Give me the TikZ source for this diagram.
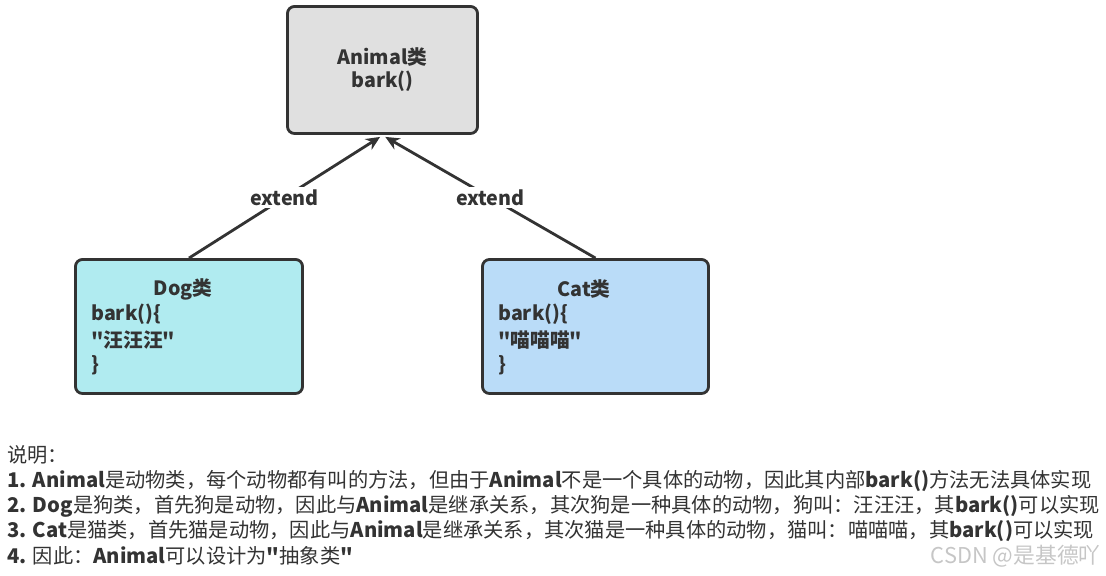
\documentclass[tikz,border=0pt]{standalone}
\usepackage{fontspec}
\setmainfont{Noto Sans CJK SC}[Ligatures=TeXOff]
\usetikzlibrary{arrows.meta}
\definecolor{ink}{HTML}{333333}
\definecolor{animalfill}{HTML}{E0E0E0}
\definecolor{dogfill}{HTML}{B0EBF0}
\definecolor{catfill}{HTML}{BADCF8}
\newcommand\lat[1]{\textbf{#1}}
\begin{document}
\begin{tikzpicture}[x=0.025cm,y=-0.025cm,>={Stealth[length=10pt,width=9pt]},
	font=\fontsize{14}{17}\selectfont,text=ink,
	cls/.style={draw=ink,line width=2pt,rounded corners=5pt,inner sep=0pt},
	txt/.style={inner sep=0pt,font=\fontsize{14}{17}\selectfont\bfseries,anchor=west},
	ext/.style={midway,fill=white,inner sep=2pt,font=\fontsize{14}{17}\selectfont\bfseries},
	desc/.style={inner sep=0pt,anchor=west,font=\fontsize{14.4}{17}\selectfont}]
		\useasboundingbox (0,0) rectangle (1106,576);
		\node[cls,fill=animalfill,minimum width=4.75cm,minimum height=3.175cm] (animal) at (382.5,70) {};
		\node[cls,fill=dogfill,minimum width=5.675cm,minimum height=3.35cm] (dog) at (189,326.5) {};
		\node[cls,fill=catfill,minimum width=5.65cm,minimum height=3.35cm] (cat) at (595.5,326.5) {};
		\node[txt,anchor=center] (animaltitle) at (382.5,57) {Animal类};
		\node[txt,anchor=center] (animalbark) at (382.5,81) {bark()};
		\node[txt,anchor=center] (dogtitle) at (183,289) {Dog类};
		\node[txt,anchor=center] (cattitle) at (584,289) {Cat类};
		\foreach \n/\y/\t in {1/314/{bark()\{},2/340/{"汪汪汪"},3/365/\}}{
			\node[txt] (dog\n) at (91,\y) {\t};
			}
		\foreach \n/\y/\t in {1/314/{bark()\{},2/340/{"喵喵喵"},3/365/\}}{
			\node[txt] (cat\n) at (498,\y) {\t};
			}
		\draw[->,ink,line width=2pt] (dog.north) -- ([xshift=-0.06cm,yshift=-0.05cm]animal.south) node[ext,pos=0.5]{extend};
		\draw[->,ink,line width=2pt] (cat.north) -- ([xshift=0.07cm,yshift=-0.05cm]animal.south) node[ext,pos=0.5]{extend};
		\foreach \n/\y/\t in {0/455/{说明：},
			1/481/{\lat{1. Animal}是动物类，每个动物都有叫的方法，但由于\lat{Animal}不是一个具体的动物，因此其内部\lat{bark()}方法无法具体实现},
			2/506/{\lat{2. Dog}是狗类，首先狗是动物，因此与\lat{Animal}是继承关系，其次狗是一种具体的动物，狗叫：汪汪汪，其\lat{bark()}可以实现},
			3/531/{\lat{3. Cat}是猫类，首先猫是动物，因此与\lat{Animal}是继承关系，其次猫是一种具体的动物，猫叫：喵喵喵，其\lat{bark()}可以实现},
			4/556/{\lat{4.} 因此：\lat{Animal}可以设计为\lat{"}抽象类\lat{"}}}{
			\node[desc] (d\n) at (7,\y) {\t};
			}
		\node[inner sep=0pt,anchor=east,text=gray!45,font=\fontsize{15.5}{18}\selectfont] (mark) at (1101,556) {CSDN @是基德吖};
\end{tikzpicture}
\end{document}
